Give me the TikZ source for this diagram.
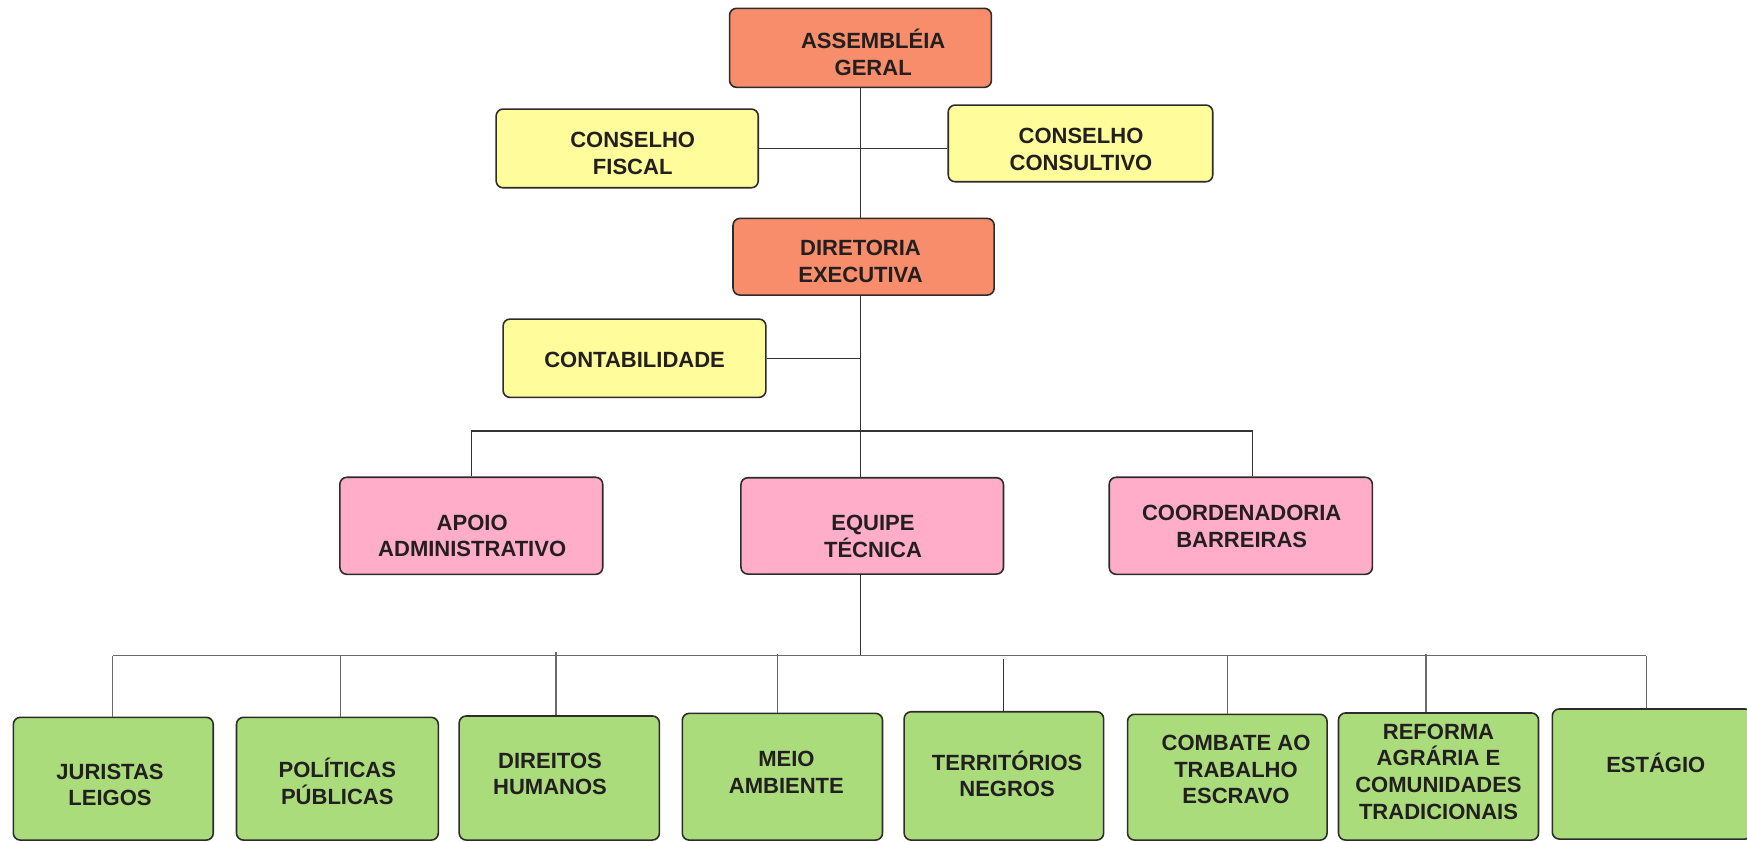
\documentclass[tikz,border=0pt]{standalone}
\usepackage{fontspec}
\setmainfont{Liberation Sans}
\definecolor{salmon}{HTML}{F78D6A}
\definecolor{lyellow}{HTML}{FEFC9B}
\definecolor{lpink}{HTML}{FFADC8}
\definecolor{lgreen}{HTML}{AADC7C}
\definecolor{boxline}{HTML}{2E2B2B}
\definecolor{textcol}{HTML}{231F20}
\definecolor{lineA}{HTML}{333333}
\definecolor{lineB}{HTML}{6A6A6A}
\begin{document}
\begin{tikzpicture}[x=0.01cm,y=-0.01cm,
  box/.style={draw=boxline, line width=0.45pt, rounded corners=0.07cm, inner sep=0pt},
  salbox/.style={box, fill=salmon},
  yelbox/.style={box, fill=lyellow},
  pinkbox/.style={box, fill=lpink},
  greenbox/.style={box, fill=lgreen},
  txt/.style={inner sep=0pt, align=center, font=\fontsize{6.26}{7.57}\selectfont\bfseries, text=textcol},
  conn/.style={draw=lineA, line width=0.35pt},
  connB/.style={draw=lineB, line width=0.35pt}]
\useasboundingbox (0,0) rectangle (1747,841);
\fill[white] (0,0) rectangle (1747,841);

% upper boxes
\node[salbox, minimum width=2.617cm, minimum height=0.79cm] (ag) at (860.5,47.8) {};
\node[yelbox, minimum width=2.62cm, minimum height=0.787cm] (cf) at (627.2,148.4) {};
\node[yelbox, minimum width=2.644cm, minimum height=0.767cm] (cc) at (1080.5,143.4) {};
\node[salbox, minimum width=2.61cm, minimum height=0.767cm] (de) at (863.6,256.7) {};
\node[yelbox, minimum width=2.627cm, minimum height=0.783cm] (ct) at (634.5,358.2) {};
\node[pinkbox, minimum width=2.627cm, minimum height=0.97cm] (ap) at (471.3,525.8) {};
\node[pinkbox, minimum width=2.624cm, minimum height=0.963cm] (et) at (872.2,525.9) {};
\node[pinkbox, minimum width=2.63cm, minimum height=0.97cm] (co) at (1240.8,525.8) {};

% bottom boxes
\node[greenbox, minimum width=1.998cm, minimum height=1.227cm] (jur) at (113.3,778.7) {};
\node[greenbox, minimum width=2.017cm, minimum height=1.227cm] (pol) at (337.4,778.7) {};
\node[greenbox, minimum width=2.001cm, minimum height=1.24cm] (dir) at (559.3,778) {};
\node[greenbox, minimum width=2.001cm, minimum height=1.267cm] (mei) at (782.4,776.7) {};
\node[greenbox, minimum width=1.994cm, minimum height=1.283cm] (ter) at (1003.9,775.9) {};
\node[greenbox, minimum width=1.994cm, minimum height=1.257cm] (com) at (1227.3,777.2) {};
\node[greenbox, minimum width=1.999cm, minimum height=1.27cm] (ref) at (1438.5,776.5) {};
\node[greenbox, minimum width=1.997cm, minimum height=1.30cm] (est) at (1652.2,774) {};

% texts
\node[txt] (agt) at (873.2,52.3) {ASSEMBLÉIA\\GERAL};
\node[txt] (cft) at (632.7,153.3) {CONSELHO\\FISCAL};
\node[txt] (cct) at (1081,149.5) {CONSELHO\\CONSULTIVO};
\node[txt] (det) at (860.5,261.7) {DIRETORIA\\EXECUTIVA};
\node[txt] (ctt) at (634.6,360) {CONTABILIDADE};
\node[txt] (apt) at (472.2,536) {APOIO\\ADMINISTRATIVO};
\node[txt] (ett) at (873,536.7) {EQUIPE\\TÉCNICA};
\node[txt] (cot) at (1241.7,526.3) {COORDENADORIA\\BARREIRAS};
\node[txt] (jurt) at (110,785) {JURISTAS\\LEIGOS};
\node[txt] (polt) at (337.3,781.5) {POLÍTICAS\\PÚBLICAS};
\node[txt] (dirt) at (550,774) {DIREITOS\\HUMANOS};
\node[txt] (meit) at (786.4,772.5) {MEIO\\AMBIENTE};
\node[txt] (tert) at (1007.1,774) {TERRITÓRIOS\\NEGROS};
\node[txt] (comt) at (1236,769.7) {COMBATE AO\\TRABALHO\\ESCRAVO};
\node[txt] (reft) at (1438.5,771.7) {REFORMA\\AGRÁRIA E\\COMUNIDADES\\TRADICIONAIS};
\node[txt] (estt) at (1655.8,763.3) {ESTÁGIO};

% upper connectors
\draw[conn] (ag.south) -- (ag.south |- de.north);
\draw[conn] (cf.east) -- (cf.east -| cc.west);
\draw[conn] (de.south -| ag.south) -- (ag.south |- et.north);
\draw[conn] (ct.east) -- (ct.east -| ag.south);
\coordinate (hl) at (471.7,431);
\coordinate (hr) at (1252.3,431);
\draw[conn] (ap.north -| hl) -- (hl) -- (hr) -- (hr |- co.north);

% bottom connectors
\coordinate (hb) at (860.5,655.5);
\draw[conn] (et.south -| hb) -- (hb);
\coordinate (cjur) at (112.5,655.5);
\coordinate (cest) at (1646.2,655.5);
\draw[connB] (cjur) -- (cest);
\coordinate (cpol) at (340.2,655.5);
\coordinate (cdir) at (556,652);
\coordinate (cmei) at (777.6,654);
\coordinate (cter) at (1003.4,659.3);
\coordinate (ccom) at (1227.8,655.5);
\coordinate (cref) at (1426,654);
\draw[connB] (cjur) -- (cjur |- jur.north);
\draw[connB] (cpol) -- (cpol |- pol.north);
\draw[connB] (cdir) -- (cdir |- dir.north);
\draw[connB] (cmei) -- (cmei |- mei.north);
\draw[conn] (cter) -- (cter |- ter.north);
\draw[connB] (ccom) -- (ccom |- com.north);
\draw[connB] (cref) -- (cref |- ref.north);
\draw[connB] (cest) -- (cest |- est.north);
\end{tikzpicture}
\end{document}
